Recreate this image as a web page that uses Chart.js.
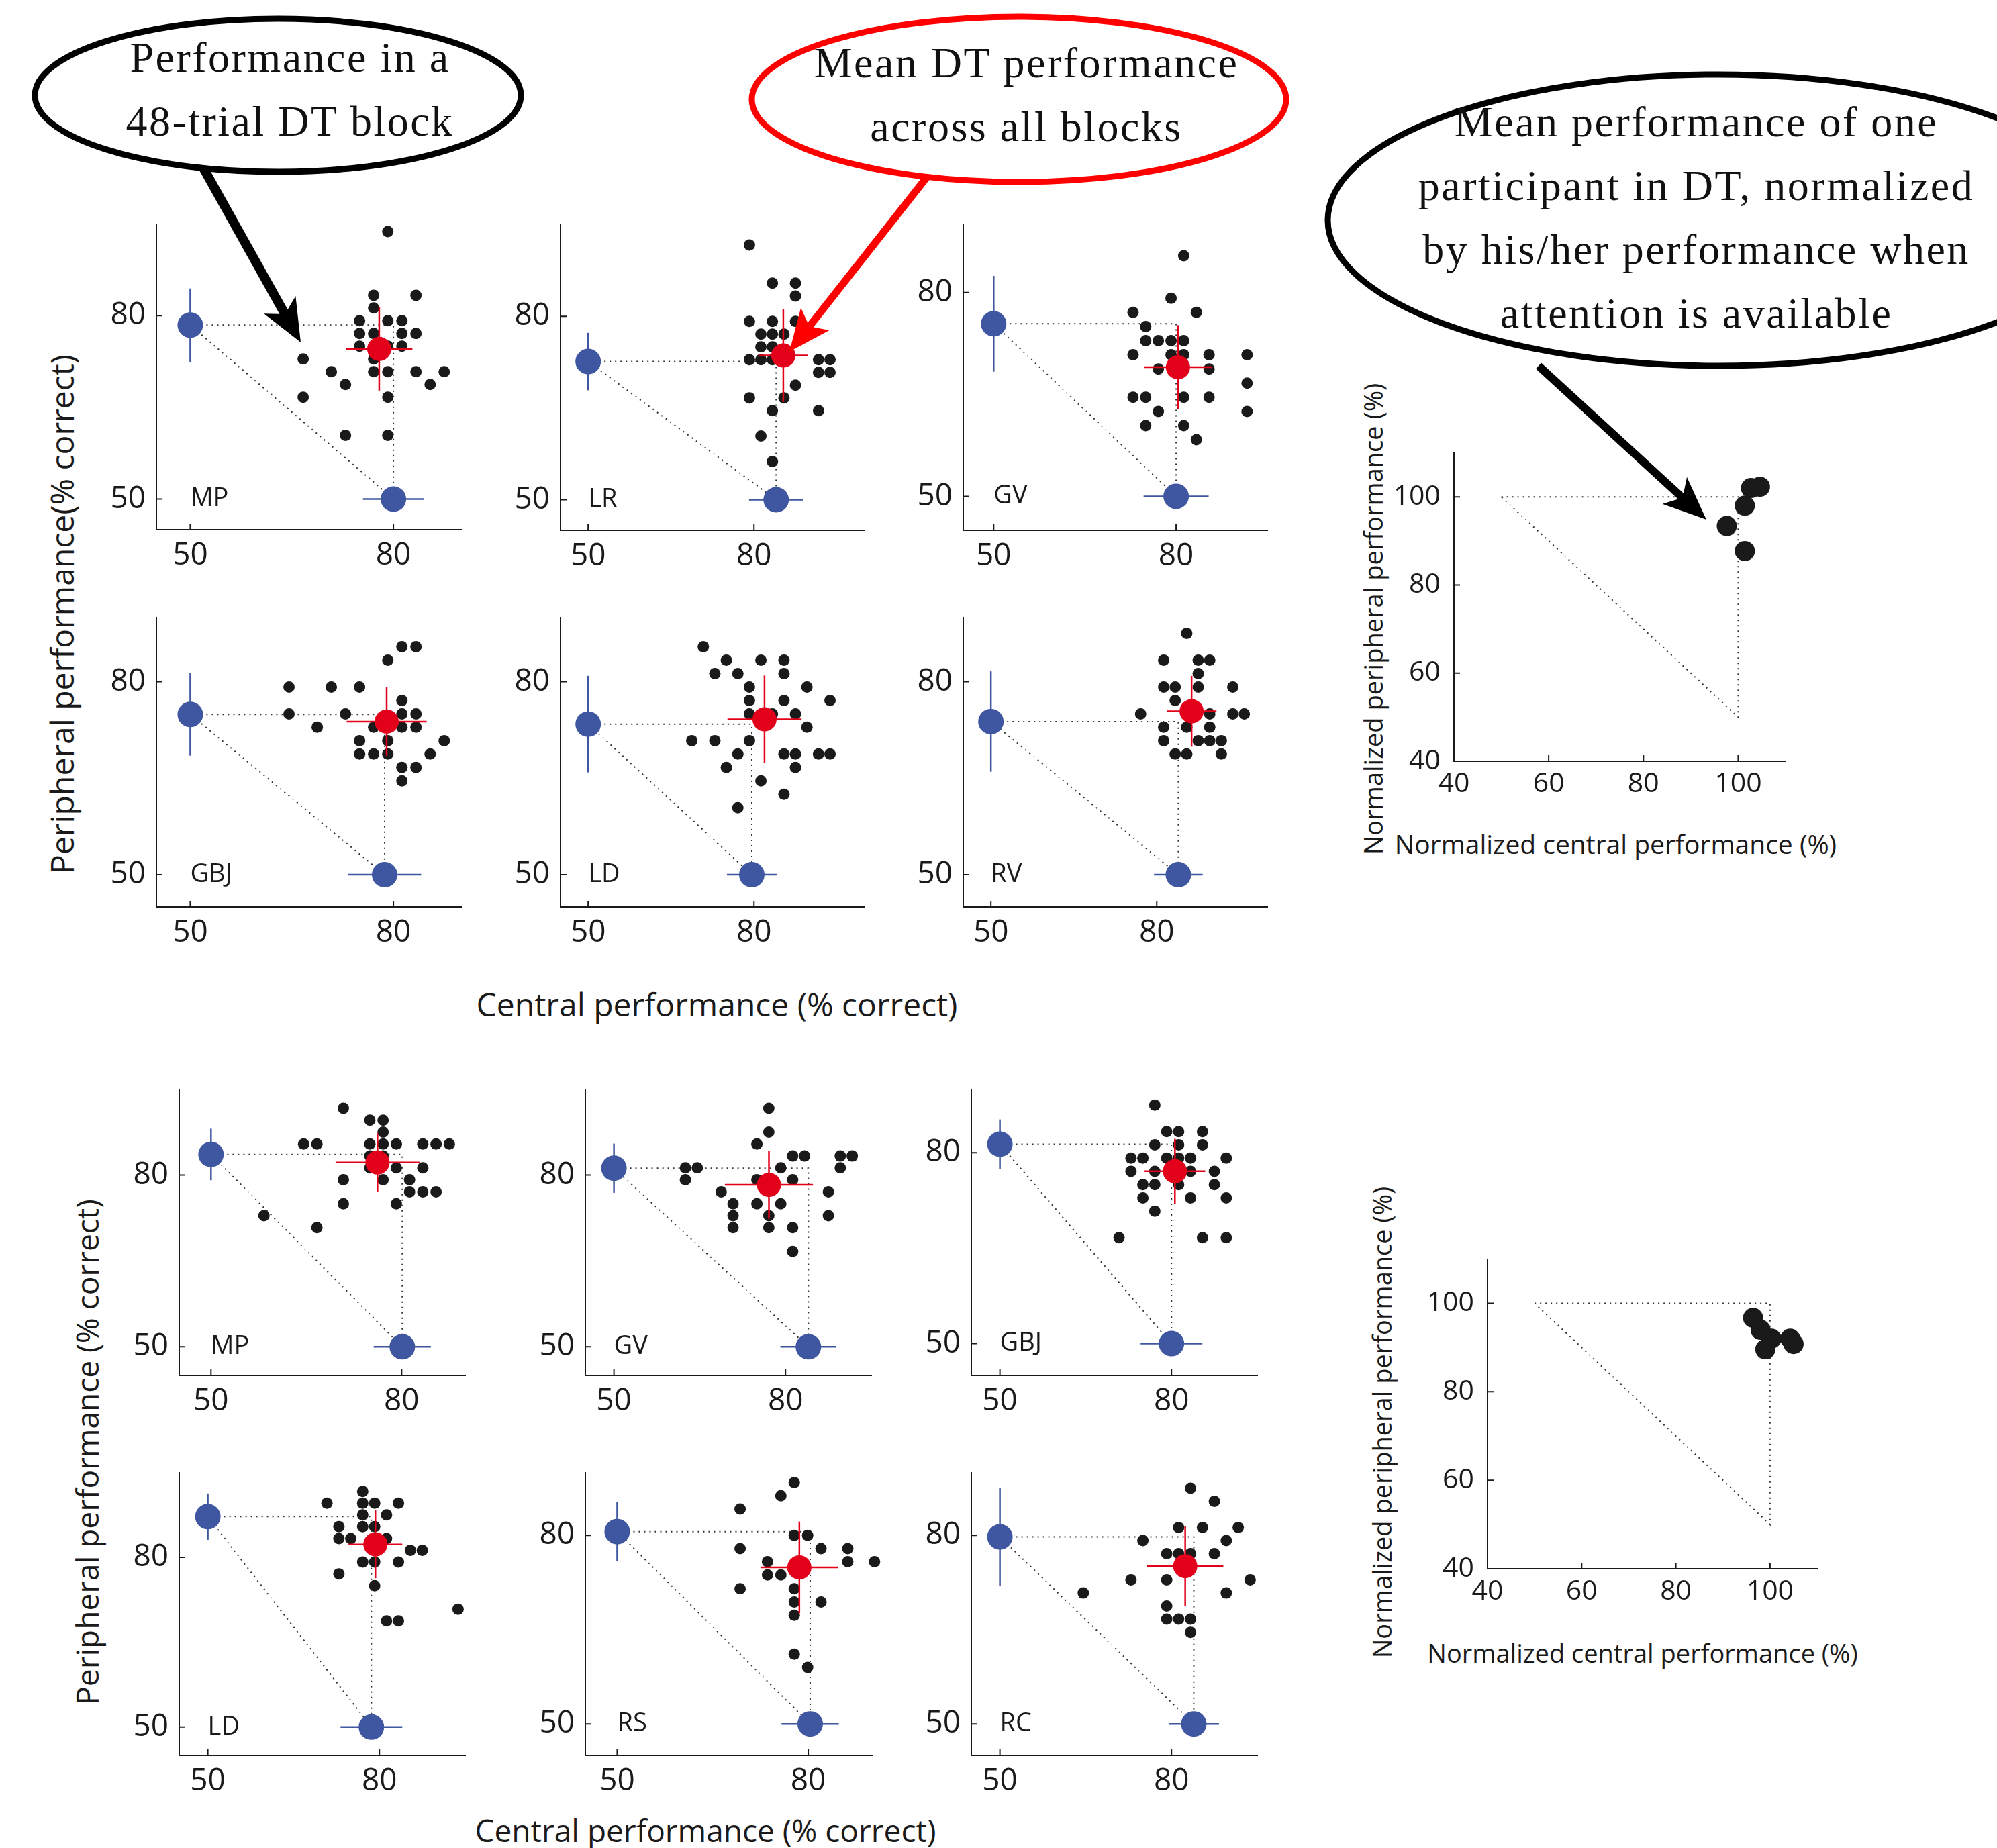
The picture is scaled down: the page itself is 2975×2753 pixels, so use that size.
<!DOCTYPE html>
<html>
<head>
<meta charset="utf-8">
<script src="https://cdn.jsdelivr.net/npm/chart.js@4.4.1/dist/chart.umd.min.js"></script>
<style>
  body { margin: 0; background: #fff; width: 2975px; height: 2753px; position: relative; overflow: hidden; }
  canvas { position: absolute; }
  .lab { position: absolute; white-space: nowrap; color: #1a1a1a; font-family: 'Open Sans', sans-serif; transform: translate(-50%, -50%); }
  .rot { transform: translate(-50%, -50%) rotate(-90deg); }
  svg { position: absolute; left: 0; top: 0; }
</style>
</head>
<body>

<div class="lab rot" style="left:91px;top:915px;font-size:48px">Peripheral performance(% correct)</div>
<div class="lab" style="left:1068px;top:1495px;font-size:48px">Central performance (% correct)</div>
<div class="lab rot" style="left:129px;top:2163px;font-size:46px">Peripheral performance (% correct)</div>
<div class="lab" style="left:1051px;top:2726px;font-size:46px">Central performance (% correct)</div>
<div class="lab rot" style="left:2045px;top:922px;font-size:38px">Normalized peripheral performance (%)</div>
<div class="lab" style="left:2407px;top:1256px;font-size:39px">Normalized central performance (%)</div>
<div class="lab rot" style="left:2058px;top:2119px;font-size:38px">Normalized peripheral performance (%)</div>
<div class="lab" style="left:2447px;top:2462px;font-size:38px">Normalized central performance (%)</div>

<svg id="notes" width="2975" height="2753"></svg>

<script>
// one entry per panel: top group (6) then bottom group (6)
var participants = ['MP', 'LR', 'GV', 'GBJ', 'LD', 'RV', 'MP', 'GV', 'GBJ', 'LD', 'RS', 'RC'];
var xMaxes = [90, 100, 95, 90, 100, 100, 90, 95, 95, 95, 90, 95];
var yMaxes = [95, 95, 90, 90, 90, 90, 95, 95, 90, 95, 90, 90];
var panelTicks = [50, 80];

// single task performance (blue)
var singleCentral = [80, 84, 80, 78.7, 79.6, 83.9, 80.1, 84, 80, 78.6, 80.3, 83.9];
var singleCentralErr = [4.5, 4.9, 5.35, 5.4, 4.5, 4.4, 4.5, 4.9, 5.4, 5.4, 4.5, 4.4];
var singlePeripheral = [78.45, 72.6, 75.4, 74.9, 73.4, 73.8, 83.6, 81.2, 81.35, 87.2, 80.6, 79.75];
var singlePeripheralErr = [6, 4.7, 7.05, 6.4, 7.5, 7.8, 4.5, 4.3, 3.9, 4.1, 4.7, 7.8];

// mean dual task performance (red)
var meanCentral = [77.9, 85.3, 80.3, 79, 81.9, 86.3, 76.2, 77.1, 80.6, 79.3, 78.6, 82.4];
var meanCentralErr = [4.9, 4.45, 5.55, 5.9, 6.7, 4.5, 6.6, 7.7, 5.3, 4.7, 6.1, 6.66];
var meanPeripheral = [74.55, 73.6, 69, 73.8, 74.15, 75.4, 82.2, 78.3, 77.1, 82.3, 74.9, 75.1];
var meanPeripheralErr = [6.8, 7.6, 6.2, 5.3, 6.8, 5.5, 5.1, 5.95, 5.1, 6, 7.3, 6.4];

// single DT blocks (black dots), central %
var blockCentral = [
    [79.17, 77.08, 83.33, 77.08, 75, 79.17, 81.25, 75, 77.08, 81.25, 83.33, 75, 79.17, 81.25, 77.08, 66.67, 70.83, 77.08, 79.17, 83.33, 87.5, 72.92, 85.42, 66.67, 79.17, 72.92, 79.17],
    [79.17, 83.33, 87.5, 87.5, 79.17, 83.33, 87.5, 81.25, 83.33, 85.42, 81.25, 83.33, 79.17, 81.25, 83.33, 91.67, 93.75, 91.67, 93.75, 87.5, 79.17, 85.42, 83.33, 91.67, 81.25, 83.33],
    [81.25, 79.17, 72.92, 83.33, 75, 75, 77.08, 79.17, 81.25, 72.92, 79.17, 81.25, 85.42, 91.67, 77.08, 85.42, 91.67, 72.92, 75, 81.25, 85.42, 77.08, 91.67, 75, 81.25, 83.33],
    [81.25, 83.33, 79.17, 64.58, 70.83, 75, 81.25, 64.58, 72.92, 81.25, 83.33, 68.75, 77.08, 81.25, 83.33, 75, 79.17, 87.5, 75, 77.08, 79.17, 85.42, 81.25, 83.33, 81.25],
    [70.83, 75, 81.25, 85.42, 72.92, 77.08, 85.42, 79.17, 89.58, 79.17, 85.42, 93.75, 79.17, 83.33, 87.5, 89.58, 68.75, 72.92, 79.17, 77.08, 85.42, 87.5, 91.67, 93.75, 75, 87.5, 81.25, 85.42, 77.08],
    [85.42, 81.25, 87.5, 89.58, 87.5, 81.25, 83.33, 87.5, 93.75, 83.33, 77.08, 89.58, 93.75, 95.83, 81.25, 85.42, 89.58, 81.25, 87.5, 89.58, 91.67, 83.33, 85.42, 91.67],
    [70.83, 75, 77.08, 77.08, 64.58, 66.67, 75, 77.08, 79.17, 83.33, 85.42, 87.5, 75, 77.08, 75, 79.17, 83.33, 70.83, 77.08, 81.25, 81.25, 83.33, 85.42, 70.83, 79.17, 58.33, 66.67],
    [77.08, 77.08, 75, 81.25, 83.33, 89.58, 91.67, 62.5, 64.58, 79.17, 89.58, 62.5, 75, 81.25, 68.75, 87.5, 70.83, 75, 79.17, 70.83, 77.08, 87.5, 70.83, 77.08, 81.25, 81.25],
    [77.08, 79.17, 81.25, 85.42, 77.08, 81.25, 85.42, 72.92, 75, 79.17, 81.25, 83.33, 89.58, 72.92, 77.08, 83.33, 87.5, 75, 77.08, 81.25, 87.5, 75, 83.33, 89.58, 77.08, 70.83, 85.42, 89.58],
    [77.08, 70.83, 77.08, 79.17, 83.33, 77.08, 81.25, 72.92, 77.08, 79.17, 72.92, 75, 81.25, 85.42, 87.5, 77.08, 79.17, 83.33, 72.92, 79.17, 93.75, 81.25, 83.33],
    [77.8, 75.7, 69.3, 77.8, 79.9, 69.3, 82, 86.2, 73.6, 86.2, 90.4, 73.6, 75.7, 69.3, 77.8, 77.8, 82, 77.8, 77.8, 79.9],
    [83.33, 87.5, 81.25, 85.42, 91.67, 75, 89.58, 79.17, 81.25, 83.33, 87.5, 72.92, 79.17, 93.75, 64.58, 89.58, 79.17, 79.17, 81.25, 83.33, 83.33]
];

// single DT blocks (black dots), peripheral %
var blockPeripheral = [
    [93.75, 83.33, 83.33, 81.25, 79.17, 79.17, 79.17, 77.08, 77.08, 77.08, 77.08, 75, 75, 75, 72.92, 72.92, 70.83, 70.83, 70.83, 70.83, 70.83, 68.75, 68.75, 66.67, 66.67, 60.42, 60.42],
    [91.67, 85.42, 85.42, 83.33, 79.17, 79.17, 79.17, 77.08, 77.08, 77.08, 75, 75, 72.92, 72.92, 72.92, 72.92, 72.92, 70.83, 70.83, 68.75, 66.67, 66.67, 64.58, 64.58, 60.42, 56.25],
    [85.42, 79.17, 77.08, 77.08, 75, 72.92, 72.92, 72.92, 72.92, 70.83, 70.83, 70.83, 70.83, 70.83, 68.75, 68.75, 66.67, 64.58, 64.58, 64.58, 64.58, 62.5, 62.5, 60.42, 60.42, 58.33],
    [85.42, 85.42, 83.33, 79.17, 79.17, 79.17, 77.08, 75, 75, 75, 75, 72.92, 72.92, 72.92, 72.92, 70.83, 70.83, 70.83, 68.75, 68.75, 68.75, 68.75, 66.67, 66.67, 64.58],
    [85.42, 83.33, 83.33, 83.33, 81.25, 81.25, 81.25, 79.17, 79.17, 77.08, 77.08, 77.08, 75, 75, 75, 72.92, 70.83, 70.83, 70.83, 68.75, 68.75, 68.75, 68.75, 68.75, 66.67, 66.67, 64.58, 62.5, 60.42],
    [87.5, 83.33, 83.33, 83.33, 81.25, 79.17, 79.17, 79.17, 79.17, 77.08, 75, 75, 75, 75, 72.92, 72.92, 72.92, 70.83, 70.83, 70.83, 70.83, 68.75, 68.75, 68.75],
    [91.67, 89.58, 89.58, 87.5, 85.42, 85.42, 85.42, 85.42, 85.42, 85.42, 85.42, 85.42, 83.33, 83.33, 81.25, 81.25, 81.25, 79.17, 79.17, 79.17, 77.08, 77.08, 77.08, 75, 75, 72.92, 70.83],
    [91.67, 87.5, 85.42, 83.33, 83.33, 83.33, 83.33, 81.25, 81.25, 81.25, 81.25, 79.17, 79.17, 79.17, 77.08, 77.08, 75, 75, 75, 72.92, 72.92, 72.92, 70.83, 70.83, 70.83, 66.67],
    [87.5, 83.33, 83.33, 83.33, 81.25, 81.25, 81.25, 79.17, 79.17, 79.17, 79.17, 79.17, 79.17, 77.08, 77.08, 77.08, 77.08, 75, 75, 75, 75, 72.92, 72.92, 72.92, 70.83, 66.67, 66.67, 66.67],
    [91.67, 89.58, 89.58, 89.58, 89.58, 87.5, 87.5, 85.42, 85.42, 85.42, 83.33, 83.33, 83.33, 81.25, 81.25, 79.17, 79.17, 79.17, 77.08, 75, 70.83, 68.75, 68.75],
    [88.4, 86.3, 84.2, 80, 80, 77.9, 77.9, 77.9, 75.8, 75.8, 75.8, 73.7, 73.7, 71.5, 71.5, 69.4, 69.4, 67.3, 61.1, 59],
    [87.5, 85.42, 81.25, 81.25, 81.25, 79.17, 79.17, 77.08, 77.08, 77.08, 77.08, 72.92, 72.92, 72.92, 70.83, 70.83, 68.75, 66.67, 66.67, 66.67, 64.58]
];

// normalized mean performance per participant (DT / single task, %)
var normTicks = [40, 60, 80, 100];
var normTopCentral = [104.6, 102.7, 101.4, 97.6, 101.4];
var normTopPeripheral = [102.3, 102.0, 98.0, 93.4, 87.7];
var normBottomCentral = [96.4, 98, 100.3, 99, 104.3, 105];
var normBottomPeripheral = [96.7, 94, 92, 89.6, 92, 90.8];

// layout: chart areas [left, top, right, bottom] in page pixels
var panelBoxes = [
    [233, 328, 687, 789], [835, 329, 1288, 790], [1435, 329, 1888, 790],
    [233, 914, 687, 1351], [835, 914, 1288, 1351], [1435, 914, 1888, 1351],
    [267, 1617, 693, 2049], [872, 1617, 1298, 2049], [1447, 1617, 1873, 2049],
    [267, 2188, 693, 2615], [872, 2188, 1299, 2615], [1447, 2188, 1873, 2615]
];
var normBoxes = [[2166, 668, 2660, 1134], [2216, 1869, 2707, 2337]];

var BLUE = '#3f57a0';
var RED = '#e2001a';
var INK = '#1a1a1a';
var YW = 120, XH = 80, PT = 30, PR = 30;

var inwardTicks = {
    id: 'inwardTicks',
    afterDraw: function (chart) {
        var ctx = chart.ctx, a = chart.chartArea, x = chart.scales.x, y = chart.scales.y;
        ctx.save();
        ctx.strokeStyle = INK;
        ctx.lineWidth = 2;
        ctx.beginPath();
        x.ticks.forEach(function (t) {
            var p = x.getPixelForValue(t.value);
            ctx.moveTo(p, a.bottom);
            ctx.lineTo(p, a.bottom - 9);
        });
        y.ticks.forEach(function (t) {
            var p = y.getPixelForValue(t.value);
            ctx.moveTo(a.left, p);
            ctx.lineTo(a.left + 9, p);
        });
        ctx.stroke();
        ctx.restore();
    }
};

var nameTag = {
    id: 'nameTag',
    afterDraw: function (chart, args, opts) {
        if (!opts.text) return;
        var ctx = chart.ctx;
        ctx.save();
        ctx.fillStyle = INK;
        ctx.font = '38px "Open Sans"';
        ctx.textAlign = 'left';
        ctx.textBaseline = 'middle';
        ctx.fillText(opts.text, chart.scales.x.getPixelForValue(50), chart.scales.y.getPixelForValue(50));
        ctx.restore();
    }
};

function makeCanvas(box) {
    var cv = document.createElement('canvas');
    var w = box[2] - box[0] + YW + PR, h = box[3] - box[1] + PT + XH;
    cv.width = w;
    cv.height = h;
    cv.style.width = w + 'px';
    cv.style.height = h + 'px';
    cv.style.left = (box[0] - YW) + 'px';
    cv.style.top = (box[1] - PT) + 'px';
    document.body.insertBefore(cv, document.getElementById('notes'));
    return cv;
}

function axis(min, max, ticks, fontSize, pad, fitSide, fitSize) {
    return {
        type: 'linear', min: min, max: max,
        grid: { display: false },
        border: { display: true, color: INK, width: 2 },
        afterBuildTicks: function (s) { s.ticks = ticks.map(function (v) { return { value: v }; }); },
        afterFit: function (s) { s[fitSide] = fitSize; },
        ticks: { color: INK, padding: pad, font: { family: 'Open Sans', size: fontSize } }
    };
}

function seg(data, color, width, order, dash) {
    return { data: data, showLine: true, borderColor: color, borderWidth: width, borderDash: dash || [],
             pointRadius: 0, clip: false, order: order };
}

function dotSet(data, color, r, order) {
    return { data: data, pointRadius: r, backgroundColor: color, borderWidth: 0, clip: false, order: order };
}

function panel(i) {
    var cx = singleCentral[i], py = singlePeripheral[i];
    var mx = meanCentral[i], my = meanPeripheral[i];
    var ce = singleCentralErr[i], pe = singlePeripheralErr[i];
    var mxe = meanCentralErr[i], mye = meanPeripheralErr[i];
    var dots = blockCentral[i].map(function (v, k) { return { x: v, y: blockPeripheral[i][k] }; });

    new Chart(makeCanvas(panelBoxes[i]), {
        type: 'scatter',
        data: {
            datasets: [
                seg([{x: 50, y: py}, {x: cx, y: py}, {x: cx, y: 50}, {x: 50, y: py}], '#333', 2, 10, [2, 6]),
                dotSet(dots, INK, 8.5, 9),
                seg([{x: 50, y: py - pe}, {x: 50, y: py + pe}], BLUE, 2.5, 8),
                seg([{x: cx - ce, y: 50}, {x: cx + ce, y: 50}], BLUE, 2.5, 8),
                dotSet([{x: 50, y: py}, {x: cx, y: 50}], BLUE, 19, 7),
                seg([{x: mx - mxe, y: my}, {x: mx + mxe, y: my}], RED, 2.5, 6),
                seg([{x: mx, y: my - mye}, {x: mx, y: my + mye}], RED, 2.5, 6),
                dotSet([{x: mx, y: my}], RED, 18, 5)
            ]
        },
        options: {
            responsive: false, animation: false, events: [],
            layout: { padding: { top: PT, right: PR, left: 0, bottom: 0 } },
            plugins: { legend: { display: false }, tooltip: { enabled: false }, nameTag: { text: participants[i] } },
            scales: {
                x: axis(45, xMaxes[i], panelTicks, 46, 3, 'height', XH),
                y: axis(45, yMaxes[i], panelTicks, 46, 8, 'width', YW)
            }
        },
        plugins: [inwardTicks, nameTag]
    });
}

function normPanel(box, cs, ps) {
    var dots = cs.map(function (v, k) { return { x: v, y: ps[k] }; });
    new Chart(makeCanvas(box), {
        type: 'scatter',
        data: {
            datasets: [
                seg([{x: 50, y: 100}, {x: 100, y: 100}, {x: 100, y: 50}, {x: 50, y: 100}], '#333', 2, 10, [2, 6]),
                dotSet(dots, INK, 15, 5)
            ]
        },
        options: {
            responsive: false, animation: false, events: [],
            layout: { padding: { top: PT, right: PR, left: 0, bottom: 0 } },
            plugins: { legend: { display: false }, tooltip: { enabled: false } },
            scales: {
                x: axis(40, 110, normTicks, 41, 2, 'height', XH),
                y: axis(40, 110, normTicks, 41, 12, 'width', YW)
            }
        },
        plugins: [inwardTicks]
    });
}

for (var i = 0; i < participants.length; i++) panel(i);
normPanel(normBoxes[0], normTopCentral, normTopPeripheral);
normPanel(normBoxes[1], normBottomCentral, normBottomPeripheral);

// speech bubbles with arrows
var NS = 'http://www.w3.org/2000/svg';
var svg = document.getElementById('notes');

function el(tag, attrs, text) {
    var e = document.createElementNS(NS, tag);
    for (var k in attrs) e.setAttribute(k, attrs[k]);
    if (text) e.textContent = text;
    svg.appendChild(e);
    return e;
}

function arrow(x1, y1, x2, y2, color, w, headLen, headHalf, notch) {
    var dx = x2 - x1, dy = y2 - y1, L = Math.hypot(dx, dy);
    var ux = dx / L, uy = dy / L, px = -uy, py = ux;
    var bx = x2 - ux * headLen, by = y2 - uy * headLen;
    var nx = x2 - ux * (headLen - notch), ny = y2 - uy * (headLen - notch);
    el('line', { x1: x1, y1: y1, x2: nx, y2: ny, stroke: color, 'stroke-width': w });
    el('polygon', { fill: color, points: [x2, y2, bx + px * headHalf, by + py * headHalf, nx, ny, bx - px * headHalf, by - py * headHalf].join(' ') });
}

function bubble(cx, cy, rx, ry, color, tx, lines, y0, step) {
    el('ellipse', { cx: cx, cy: cy, rx: rx, ry: ry, fill: 'white', stroke: color, 'stroke-width': 9 });
    lines.forEach(function (s, k) {
        el('text', { x: tx, y: y0 + k * step, 'text-anchor': 'middle', 'dominant-baseline': 'middle',
                     'font-family': 'Liberation Serif', 'font-size': 64, 'letter-spacing': 2.5, fill: '#111' }, s);
    });
}

arrow(300, 245, 448, 510, '#000', 14, 64, 27, 16);
bubble(414, 142, 362, 114, '#000', 432, ['Performance in a', '48-trial DT block'], 92, 95);

arrow(1390, 252, 1176, 524, '#ff0000', 11, 62, 27, 14);
bubble(1518, 148, 398, 123, '#ff0000', 1529, ['Mean DT performance', 'across all blocks'], 100, 95);

arrow(2292, 545, 2542, 774, '#000', 12, 64, 27, 16);
bubble(2560, 328, 582, 217, '#000', 2527, ['Mean performance of one', 'participant in DT, normalized', 'by his/her performance when', 'attention is available'], 188, 95);
</script>
</body>
</html>
